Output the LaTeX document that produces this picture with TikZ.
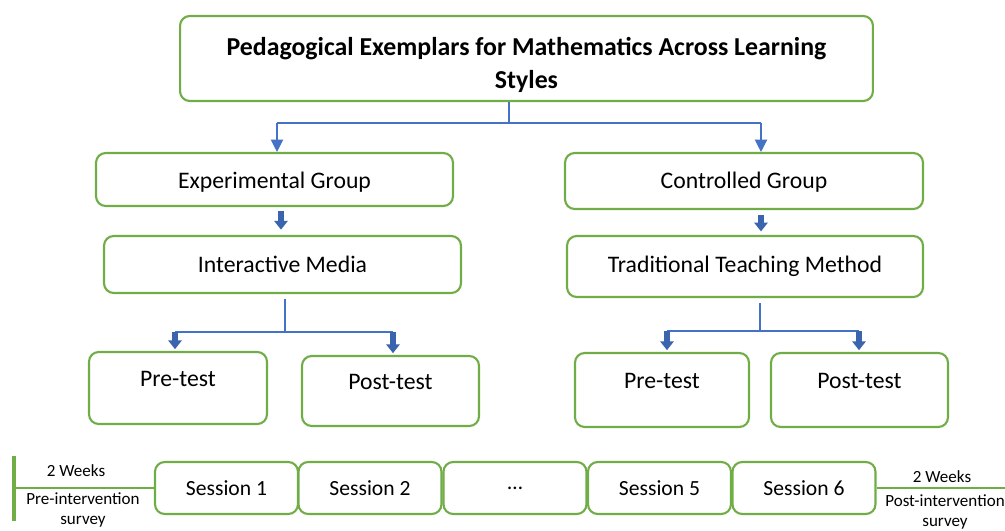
\documentclass[tikz,border=0pt]{standalone}
\usepackage{fontspec}
\setmainfont{Carlito}
\usetikzlibrary{arrows.meta}
\definecolor{boxgreen}{HTML}{70AD47}
\definecolor{linkblue}{HTML}{4472C4}
\definecolor{fatblue}{HTML}{3A64AE}
\tikzset{
	box/.style={draw=boxgreen, line width=1.2pt, rounded corners=5.5pt, fill=white, align=center, inner sep=0pt, font=\fontsize{13.5}{16}\selectfont},
	testbox/.style={box, text depth=0.38cm},
	sessbox/.style={box, minimum width=2.86cm, minimum height=1.04cm, font=\fontsize{12.3}{15}\selectfont},
	bline/.style={draw=linkblue, line width=0.7pt},
	fat/.style={draw=fatblue, line width=3.2pt, -{Triangle[width=7.5pt,length=5pt]}},
	gline/.style={draw=boxgreen, line width=1.5pt},
	small/.style={font=\fontsize{9.7}{11.4}\selectfont, align=center, inner sep=0pt}
}
\begin{document}
\begin{tikzpicture}[x=0.02cm, y=-0.02cm, line join=round]
	\useasboundingbox (0,0) rectangle (1005,531);
	% top of the tree
	\node[box, minimum width=13.86cm, minimum height=1.7cm, text height=1.27cm, font=\fontsize{14.7}{18.8}\selectfont\bfseries] (title) at (526.5,58.5) {Pedagogical Exemplars for Mathematics Across Learning\\Styles};
	\node[box, minimum width=7.14cm, minimum height=1.06cm, text height=0.42cm] (expg) at (274.5,179.5) {Experimental Group};
	\node[box, minimum width=7.16cm, minimum height=1.12cm, text height=0.38cm] (ctrlg) at (744,181) {Controlled Group};
	\node[box, minimum width=7.14cm, minimum height=1.14cm] (media) at (282.5,264.5) {Interactive Media};
	\node[box, minimum width=7.12cm, minimum height=1.22cm] (trad) at (745,266.5) {Traditional Teaching Method};
	% tests
	\node[testbox, minimum width=3.56cm, minimum height=1.44cm] (prel) at (178,388) {Pre-test};
	\node[testbox, minimum width=3.54cm, minimum height=1.40cm] (postl) at (390.5,391) {Post-test};
	\node[testbox, minimum width=3.48cm, minimum height=1.48cm] (prer) at (662,390) {Pre-test};
	\node[testbox, minimum width=3.54cm, minimum height=1.48cm] (postr) at (859.5,390) {Post-test};

	% split under the title
	\coordinate (split) at (509,123);
	\coordinate (sl) at (277,123);
	\coordinate (sr) at (761,123);
	\draw[bline] (split |- title.south) -- (split);
	\draw[bline] (sl) -- (sr);
	\draw[bline, -{Triangle[width=7pt,length=7pt]}] (sl) -- (sl |- expg.north);
	\draw[bline, -{Triangle[width=7pt,length=7pt]}] (sr) -- (sr |- ctrlg.north);

	% group -> method
	\coordinate (ml) at (281,0);
	\coordinate (mr) at (761,0);
	\draw[fat, shorten <=2pt, shorten >=3pt] (ml |- expg.south) -- (ml |- media.north);
	\draw[fat, shorten <=3pt, shorten >=2pt] (mr |- ctrlg.south) -- (mr |- trad.north);

	% method -> tests
	\coordinate (lfork) at (285,332);
	\coordinate (la) at (175,332);
	\coordinate (lb) at (393,332);
	\draw[bline, shorten <=3pt] (lfork |- media.south) -- (lfork);
	\draw[bline] (la) -- (lb);
	\draw[fat, shorten >=1pt] (la) -- (la |- prel.north);
	\draw[fat, shorten >=1pt] (lb) -- (lb |- postl.north);
	\coordinate (rfork) at (760,331);
	\coordinate (ra) at (667,331);
	\coordinate (rb) at (859,331);
	\draw[bline, shorten <=3pt] (rfork |- trad.south) -- (rfork);
	\draw[bline] (ra) -- (rb);
	\draw[fat, shorten >=1pt] (ra) -- (ra |- prer.north);
	\draw[fat, shorten >=1pt] (rb) -- (rb |- postr.north);

	% time line
	\node[sessbox] (s1) at (226.5,488) {Session 1};
	\node[sessbox] (s2) at (370,488) {Session 2};
	\node[sessbox] (sdots) at (515,488) {\dots};
	\node[sessbox] (s5) at (659.5,488) {Session 5};
	\node[sessbox] (s6) at (804,488) {Session 6};
	\coordinate (tbeg) at (14,488);
	\coordinate (tend) at (1010,488);
	\draw[gline, line width=2pt] (14,456) -- (14,521);
	\draw[gline] (tbeg) -- (s1.west);
	\draw[gline] (s6.east) -- (tend);
	\node[small] (preweeks) at (76,471) {2 Weeks};
	\node[small] (presurvey) at (83,510) {Pre-intervention\\survey};
	\node[small] (postweeks) at (942,477) {2 Weeks};
	\node[small] (postsurvey) at (945,512) {Post-intervention\\survey};
\end{tikzpicture}
\end{document}
